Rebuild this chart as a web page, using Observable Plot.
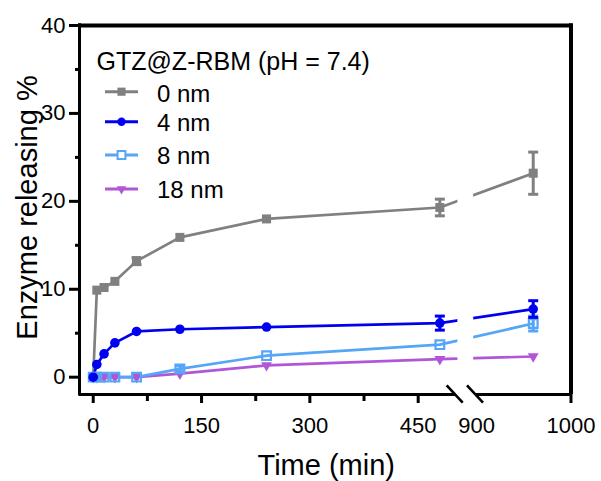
<!DOCTYPE html>
<html>
<head>
<meta charset="utf-8">
<script src="https://cdn.jsdelivr.net/npm/d3@7"></script>
<script src="https://cdn.jsdelivr.net/npm/@observablehq/plot@0.6"></script>
<style>
  html, body { margin: 0; padding: 0; background: #ffffff; }
  #chart { width: 601px; height: 481px; overflow: hidden; }
  #chart svg { display: block; }
</style>
</head>
<body>
<div id="chart"></div>
<script>
// ---------------- data ----------------
const times = [0, 5, 15, 30, 60, 120, 240, 480, 960];

const seriesNames = ["0 nm", "4 nm", "8 nm", "18 nm"];
const seriesColors = ["#808080", "#0000f0", "#56a6f8", "#b256d8"];

const values0nm  = [0, 9.9, 10.2, 10.9, 13.2, 15.9, 18.0, 19.3, 23.2];
const errors0nm  = [0, 0, 0, 0, 0.4, 0, 0, 0.95, 2.4];
const values4nm  = [0, 1.45, 2.65, 3.9, 5.2, 5.45, 5.7, 6.15, 7.75];
const errors4nm  = [0, 0, 0, 0, 0, 0, 0, 0.8, 0.95];
const values8nm  = [0, 0, 0, 0, 0, 0.95, 2.45, 3.7, 6.1];
const errors8nm  = [0, 0, 0, 0, 0, 0.35, 0, 0, 0.85];
const values18nm = [0, 0, 0, 0, 0, 0.4, 1.35, 2.05, 2.35];
const errors18nm = [0, 0, 0, 0, 0, 0, 0, 0, 0];

const legendTitle = "GTZ@Z-RBM (pH = 7.4)";
const xAxisTitle = "Time (min)";
const yAxisTitle = "Enzyme releasing %";

const xTickLabels = [0, 150, 300, 450, 900, 1000];
const xMajorTicks = [0, 150, 300, 450, 1000];
const xMinorTicks = [75, 225, 375];
const yMajorTicks = [0, 10, 20, 30, 40];
const yMinorTicks = [5, 15, 25, 35];

// broken axis: left segment ends, right segment starts
const breakStart = 505;
const breakEnd = 897;

// ---------------- build ----------------
const FONT = "'Liberation Sans', Arial, Helvetica, sans-serif";
const allValues = [values0nm, values4nm, values8nm, values18nm];
const allErrors = [errors0nm, errors4nm, errors8nm, errors18nm];

const series = seriesNames.map((name, i) => ({
  name,
  color: seriesColors[i],
  rows: times.map((t, j) => ({t, v: allValues[i][j], e: allErrors[i][j]}))
}));

const xDomain = [-19, breakStart, breakEnd, 1000];
const xRange = [79, 457.4, 473.2, 570.5];
const yDomain = [-1.97, 40];

const capSymbol = {
  draw(context, size) {
    const r = Math.sqrt(size / Math.PI);
    context.moveTo(-r, 0);
    context.lineTo(r, 0);
  }
};

const markerSpecs = [
  {symbol: "square", r: 5.1, fill: true, rotate: 0},
  {symbol: "circle", r: 4.8, fill: true, rotate: 0},
  {symbol: "square", r: 4.9, fill: false, rotate: 0},
  {symbol: "triangle2", r: 5.2, fill: true, rotate: 180}
];

const drawOrder = [0, 3, 2, 1];

const lineMarks = drawOrder.map(i => Plot.line(series[i].rows, {
  x: "t", y: "v", stroke: series[i].color, strokeWidth: 2.7
}));

const gapMark = Plot.rect([null], {
  x1: () => breakStart, x2: () => breakEnd,
  y1: () => yDomain[0] + 0.3, y2: () => yDomain[1] - 0.3,
  fill: "white"
});

const pointMarks = drawOrder.flatMap(i => {
  const s = series[i];
  const m = markerSpecs[i];
  const errRows = s.rows.filter(d => d.e > 0);
  return [
    Plot.ruleX(errRows, {x: "t", y1: d => d.v - d.e, y2: d => d.v + d.e, stroke: s.color, strokeWidth: 3}),
    Plot.dot(errRows, {x: "t", y: d => d.v - d.e, symbol: capSymbol, r: 5, stroke: s.color, strokeWidth: 3}),
    Plot.dot(errRows, {x: "t", y: d => d.v + d.e, symbol: capSymbol, r: 5, stroke: s.color, strokeWidth: 3}),
    Plot.dot(s.rows, {
      x: "t", y: "v", symbol: m.symbol, r: m.r, rotate: m.rotate,
      fill: m.fill ? s.color : "none",
      stroke: s.color, strokeWidth: m.fill ? 0 : 2.2
    })
  ];
});

const plot = Plot.plot({
  width: 601,
  height: 481,
  marginLeft: 79,
  marginRight: 30.5,
  marginTop: 25,
  marginBottom: 87,
  style: {fontFamily: FONT, fontSize: "22px", color: "#000", background: "#fff"},
  x: {type: "linear", domain: xDomain, range: xRange, axis: null},
  y: {type: "linear", domain: yDomain, axis: null},
  marks: [
    ...lineMarks,
    gapMark,
    ...pointMarks,
    // frame lines
    Plot.ruleY([yDomain[1]], {x1: xDomain[0] - 0.8, x2: 1000 + 1.5, stroke: "#000", strokeWidth: 4}),
    Plot.ruleX([1000], {y1: yDomain[0], y2: yDomain[1] + 0.2, stroke: "#000", strokeWidth: 4}),
    Plot.ruleX([xDomain[0]], {y1: yDomain[0] - 0.17, y2: yDomain[1] + 0.2, stroke: "#000", strokeWidth: 3}),
    Plot.ruleY([yDomain[0]], {x1: xDomain[0], x2: breakStart - 3, stroke: "#000", strokeWidth: 3}),
    Plot.ruleY([yDomain[0]], {x1: breakEnd + 2, x2: 1000, stroke: "#000", strokeWidth: 3}),
    // y axis
    Plot.axisY(yMajorTicks, {anchor: "left", tickSize: 10, tickPadding: 4, strokeWidth: 3, fontSize: 22, tickFormat: d => String(d), label: null}),
    Plot.axisY(yMinorTicks, {anchor: "left", tickSize: 4, strokeWidth: 3, tickFormat: () => "", label: null}),
    // x axis
    Plot.axisX(xMajorTicks, {anchor: "bottom", tickSize: 9, strokeWidth: 3, tickFormat: () => "", label: null}),
    Plot.axisX(xMinorTicks, {anchor: "bottom", tickSize: 7, strokeWidth: 3, tickFormat: () => "", label: null}),
    Plot.axisX(xTickLabels, {anchor: "bottom", tickSize: 0, tickPadding: 22.7, fontSize: 22, tickFormat: d => String(d), label: null})
  ]
});

document.getElementById("chart").appendChild(plot);

// ---------------- axis titles, axis-break slashes & legend ----------------
const xs = plot.scale("x");
const ys = plot.scale("y");
const svg = d3.select(plot);
const y0 = ys.apply(yDomain[0]);
const frameCenterX = (xRange[0] + xRange[xRange.length - 1]) / 2;
const frameCenterY = (ys.apply(yDomain[0]) + ys.apply(yDomain[1])) / 2;

svg.append("text")
  .attr("font-family", FONT).attr("font-size", 29).attr("fill", "#000")
  .attr("text-anchor", "middle")
  .attr("x", frameCenterX + 1.5).attr("y", 475)
  .text(xAxisTitle);

svg.append("text")
  .attr("font-family", FONT).attr("font-size", 29).attr("fill", "#000")
  .attr("text-anchor", "middle")
  .attr("transform", `translate(36.5,${frameCenterY - 2}) rotate(-90)`)
  .text(yAxisTitle);

[[xs.apply(breakStart) - 2.7], [xs.apply(breakEnd) + 1.8]].forEach(([cx]) => {
  svg.append("line")
    .attr("x1", cx - 8).attr("y1", y0 - 8.7)
    .attr("x2", cx + 8).attr("y2", y0 + 8.7)
    .attr("stroke", "#000").attr("stroke-width", 2.6);
});

const lg = svg.append("g").attr("font-family", FONT).attr("fill", "#000").attr("text-anchor", "start");
lg.append("text").attr("x", 96.5).attr("y", 70).attr("font-size", 25).attr("text-anchor", "start").text(legendTitle);
const legendLineY = [91.7, 121.7, 155, 189];
const legendTextY = [101.7, 130.5, 163.5, 198.3];
const legendMarkerR = [4.6, 4.2, 4.4, 4.6];
series.forEach((s, i) => {
  const m = markerSpecs[i];
  const ly = legendLineY[i];
  lg.append("line").attr("x1", 105).attr("x2", 138).attr("y1", ly).attr("y2", ly)
    .attr("stroke", s.color).attr("stroke-width", 3);
  const symType = {square: d3.symbolSquare, circle: d3.symbolCircle, triangle2: d3.symbolTriangle2}[m.symbol];
  const r = legendMarkerR[i];
  lg.append("path")
    .attr("d", d3.symbol(symType, r * r * Math.PI)())
    .attr("transform", `translate(121.5,${ly}) rotate(${m.rotate})`)
    .attr("fill", m.fill ? s.color : "white")
    .attr("stroke", m.fill ? "none" : s.color)
    .attr("stroke-width", m.fill ? 0 : 2);
  lg.append("text").attr("x", 157).attr("y", legendTextY[i]).attr("font-size", 24).attr("text-anchor", "start").text(s.name);
});
</script>
</body>
</html>
